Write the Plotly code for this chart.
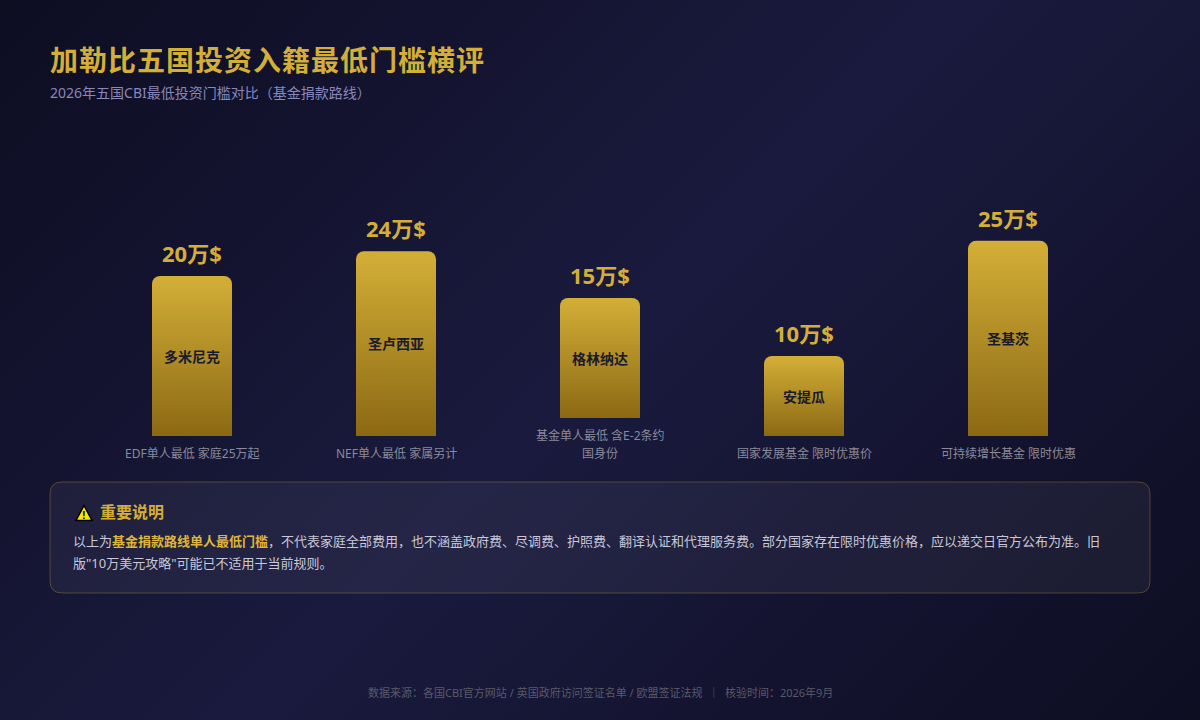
import base64
import plotly.graph_objects as go

countries = ["多米尼克", "圣卢西亚", "格林纳达", "安提瓜", "圣基茨"]
value_labels = ["20万$", "24万$", "15万$", "10万$", "25万$"]
bar_heights = [20, 23.1, 15, 10, 24.4]
bar_bases = [0, 0, 2.25, 0, 0]
notes = [["EDF单人最低 家庭25万起"], ["NEF单人最低 家属另计"], ["基金单人最低 含E-2条约", "国身份"],
         ["国家发展基金 限时优惠价"], ["可持续增长基金 限时优惠"]]

title = "加勒比五国投资入籍最低门槛横评"
subtitle = "2026年五国CBI最低投资门槛对比（基金捐款路线）"
panel_head = "重要说明"
panel_line1 = ("以上为<b><span style='color:#dfb63a'>基金捐款路线单人最低门槛</span></b>，不代表家庭全部费用，"
               "也不涵盖政府费、尽调费、护照费、翻译认证和代理服务费。部分国家存在限时优惠价格，应以递交日官方公布为准。旧")
panel_line2 = "版\"10万美元攻略\"可能已不适用于当前规则。"
footer = "数据来源：各国CBI官方网站 / 英国政府访问签证名单 / 欧盟签证法规  ｜  核验时间：2026年9月"

FONT = "Noto Sans, Noto Sans CJK SC"
GOLD = "#d4af37"
W, H = 1200, 720


def px(x):
    return x / W


def py(y):
    return 1 - y / H


bg = (f"<svg xmlns='http://www.w3.org/2000/svg' width='{W}' height='{H}'><defs>"
      "<linearGradient id='b' gradientUnits='userSpaceOnUse' x1='120' y1='-120' x2='1080' y2='840'>"
      "<stop offset='0' stop-color='#0d0d22'/><stop offset='0.5' stop-color='#1a1a3e'/>"
      "<stop offset='1' stop-color='#0d0d22'/></linearGradient></defs>"
      f"<rect width='{W}' height='{H}' fill='url(#b)'/></svg>")
bg_uri = "data:image/svg+xml;base64," + base64.b64encode(bg.encode()).decode()

fig = go.Figure()
for group, yaxis in ((lambda b: b == 0, "y"), (lambda b: b != 0, "y2")):
    idx = [i for i in range(5) if group(bar_bases[i])]
    fig.add_trace(go.Bar(
        x=idx, y=[bar_heights[i] for i in idx], width=80 / 204, yaxis=yaxis,
        text=[countries[i] for i in idx], textposition="inside", insidetextanchor="middle", textangle=0,
        textfont=dict(family=FONT, size=14, color="#1a1a2e", weight=700),
        marker=dict(color=GOLD, cornerradius=8, line_width=0),
        hoverinfo="skip",
    ))


def note(text, x, y, size, color, anchor="left", weight=400, name=None):
    fig.add_annotation(text=text, xref="paper", yref="paper", x=px(x), y=py(y), xanchor=anchor,
                       yanchor="middle", showarrow=False, align=anchor,
                       font=dict(family=FONT, size=size, color=color, weight=weight), name=name)


note(title, 48, 60, 28, GOLD, weight=700, name="title")
note(subtitle, 48, 92, 14, "#8888bb")

for i in range(5):
    fig.add_annotation(text=value_labels[i], x=i, y=bar_bases[i] + bar_heights[i], xref="x", yref="y",
                       yanchor="bottom", xanchor="center", yshift=6, showarrow=False,
                       font=dict(family=FONT, size=22, color=GOLD, weight=700))
    for k, line in enumerate(reversed(notes[i])):
        fig.add_annotation(text=line, x=i, y=py(453 - 18 * k), xref="x", yref="paper", yanchor="middle",
                           xanchor="center", showarrow=False, align="center",
                           font=dict(family=FONT, size=12, color="#8a8a9a"))

r = 12
x0, x1, y0, y1 = px(50), px(1150), py(482), py(593)
rx, ry = r / W, r / H
panel = (f"M{x0 + rx},{y0} L{x1 - rx},{y0} Q{x1},{y0} {x1},{y0 - ry} L{x1},{y1 + ry} Q{x1},{y1} {x1 - rx},{y1} "
         f"L{x0 + rx},{y1} Q{x0},{y1} {x0},{y1 + ry} L{x0},{y0 - ry} Q{x0},{y0} {x0 + rx},{y0} Z")
fig.add_shape(type="path", path=panel, xref="paper", yref="paper", layer="below",
              fillcolor="rgba(255,255,255,0.05)", line=dict(color="rgba(212,175,55,0.3)", width=1))

# warning icon: yellow triangle with a black outline and exclamation mark
tri = f"M{px(84)},{py(505.5)} L{px(92)},{py(520.5)} L{px(76)},{py(520.5)} Z"
fig.add_shape(type="path", path=tri, xref="paper", yref="paper", layer="above",
              fillcolor="#ffe600", line=dict(color="#000000", width=1.5))
fig.add_annotation(text="!", xref="paper", yref="paper", x=px(84), y=py(514.5), showarrow=False,
                   xanchor="center", yanchor="middle",
                   font=dict(family="Liberation Sans", size=11, color="#000000", weight=700))
note(panel_head, 98, 512, 16, GOLD, weight=700)
note(panel_line1, 71, 541, 13, "#c8c8d8")
note(panel_line2, 71, 563, 13, "#c8c8d8")
note(footer, 600, 692, 11, "#5a5a68", anchor="center")

y_low, y_high = (436 - 720) / 8, 436 / 8
grenada_base = max(bar_bases)
fig.update_layout(
    width=W, height=H, margin=dict(l=0, r=0, t=0, b=0), showlegend=False, barmode="overlay",
    paper_bgcolor="#0d0d22", plot_bgcolor="rgba(0,0,0,0)",
    xaxis=dict(range=[-192 / 204, (1200 - 192) / 204], visible=False, fixedrange=True),
    yaxis=dict(range=[y_low, y_high], visible=False, fixedrange=True),
    yaxis2=dict(range=[y_low - grenada_base, y_high - grenada_base], overlaying="y",
                visible=False, fixedrange=True),
    images=[dict(source=bg_uri, xref="paper", yref="paper", x=0, y=1, sizex=1, sizey=1,
                 xanchor="left", yanchor="top", sizing="stretch", layer="below")],
)

post = """
document.documentElement.style.margin='0';document.body.style.margin='0';document.body.style.background='#0d0d22';
var st=document.createElement('style');st.textContent='svg text{text-rendering:auto !important;}';document.head.appendChild(st);
var gd=document.querySelector('.js-plotly-plot');
var svg=gd.querySelector('svg.main-svg');
var ns='http://www.w3.org/2000/svg';
var defs=svg.querySelector('defs')||svg.insertBefore(document.createElementNS(ns,'defs'),svg.firstChild);
var g=document.createElementNS(ns,'linearGradient');g.setAttribute('id','barGold');
g.setAttribute('x1','0');g.setAttribute('y1','0');g.setAttribute('x2','0');g.setAttribute('y2','1');
[['0','#d4af37'],['1','#8b6914']].forEach(function(s){var t=document.createElementNS(ns,'stop');
t.setAttribute('offset',s[0]);t.setAttribute('stop-color',s[1]);g.appendChild(t);});
defs.appendChild(g);
gd.querySelectorAll('.trace.bars .point path').forEach(function(p){p.style.fill='url(#barGold)';});
gd.querySelectorAll('.annotation[data-index="0"] text').forEach(function(t){t.style.letterSpacing='1px';});
"""
fig.write_html("out.html", post_script=post, config=dict(displayModeBar=False))
